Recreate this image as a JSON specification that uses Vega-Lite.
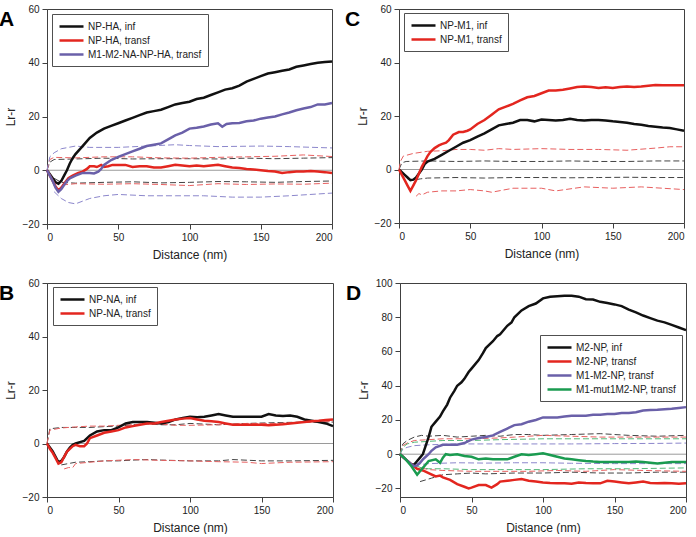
{
"$schema": "https://vega.github.io/schema/vega-lite/v6.json",
"padding": {"left": -2, "top": 3, "right": 0, "bottom": 0},
"background": "white",
"datasets": {
"A": [
{"s":"NP-HA, inf","d":0,"v":0},{"s":"NP-HA, inf","d":2,"v":-1.5},{"s":"NP-HA, inf","d":4,"v":-3},{"s":"NP-HA, inf","d":6,"v":-4.5},{"s":"NP-HA, inf","d":8,"v":-5},{"s":"NP-HA, inf","d":10,"v":-4},{"s":"NP-HA, inf","d":12,"v":-2},{"s":"NP-HA, inf","d":14,"v":0},{"s":"NP-HA, inf","d":16,"v":2.5},{"s":"NP-HA, inf","d":18,"v":4.5},{"s":"NP-HA, inf","d":20,"v":6},{"s":"NP-HA, inf","d":25,"v":9},{"s":"NP-HA, inf","d":30,"v":12},{"s":"NP-HA, inf","d":35,"v":14},{"s":"NP-HA, inf","d":40,"v":15.5},{"s":"NP-HA, inf","d":45,"v":16.5},{"s":"NP-HA, inf","d":50,"v":17.5},{"s":"NP-HA, inf","d":55,"v":18.5},{"s":"NP-HA, inf","d":60,"v":19.5},{"s":"NP-HA, inf","d":65,"v":20.5},{"s":"NP-HA, inf","d":70,"v":21.5},{"s":"NP-HA, inf","d":75,"v":22},{"s":"NP-HA, inf","d":80,"v":22.5},{"s":"NP-HA, inf","d":85,"v":23.5},{"s":"NP-HA, inf","d":90,"v":24.5},{"s":"NP-HA, inf","d":95,"v":25},{"s":"NP-HA, inf","d":100,"v":25.5},{"s":"NP-HA, inf","d":105,"v":26.5},{"s":"NP-HA, inf","d":110,"v":27},{"s":"NP-HA, inf","d":115,"v":28},{"s":"NP-HA, inf","d":120,"v":29},{"s":"NP-HA, inf","d":125,"v":30},{"s":"NP-HA, inf","d":130,"v":30.5},{"s":"NP-HA, inf","d":135,"v":31.5},{"s":"NP-HA, inf","d":140,"v":33},{"s":"NP-HA, inf","d":145,"v":34},{"s":"NP-HA, inf","d":150,"v":35},{"s":"NP-HA, inf","d":155,"v":36},{"s":"NP-HA, inf","d":160,"v":36.5},{"s":"NP-HA, inf","d":165,"v":37},{"s":"NP-HA, inf","d":170,"v":37.5},{"s":"NP-HA, inf","d":175,"v":38.5},{"s":"NP-HA, inf","d":180,"v":39},{"s":"NP-HA, inf","d":185,"v":39.5},{"s":"NP-HA, inf","d":190,"v":40},{"s":"NP-HA, inf","d":195,"v":40.3},{"s":"NP-HA, inf","d":200,"v":40.5},
{"s":"NP-HA, transf","d":0,"v":0},{"s":"NP-HA, transf","d":2,"v":-2},{"s":"NP-HA, transf","d":4,"v":-4},{"s":"NP-HA, transf","d":6,"v":-6},{"s":"NP-HA, transf","d":8,"v":-7.5},{"s":"NP-HA, transf","d":10,"v":-6.5},{"s":"NP-HA, transf","d":12,"v":-5},{"s":"NP-HA, transf","d":15,"v":-3},{"s":"NP-HA, transf","d":18,"v":-2},{"s":"NP-HA, transf","d":22,"v":-1},{"s":"NP-HA, transf","d":25,"v":-0.5},{"s":"NP-HA, transf","d":28,"v":0.5},{"s":"NP-HA, transf","d":30,"v":1.5},{"s":"NP-HA, transf","d":33,"v":1.5},{"s":"NP-HA, transf","d":35,"v":1.2},{"s":"NP-HA, transf","d":38,"v":2},{"s":"NP-HA, transf","d":40,"v":1.2},{"s":"NP-HA, transf","d":43,"v":1.5},{"s":"NP-HA, transf","d":46,"v":2},{"s":"NP-HA, transf","d":50,"v":2},{"s":"NP-HA, transf","d":55,"v":2},{"s":"NP-HA, transf","d":60,"v":1.2},{"s":"NP-HA, transf","d":65,"v":1.5},{"s":"NP-HA, transf","d":70,"v":1.5},{"s":"NP-HA, transf","d":75,"v":1},{"s":"NP-HA, transf","d":80,"v":1},{"s":"NP-HA, transf","d":85,"v":1.5},{"s":"NP-HA, transf","d":90,"v":2},{"s":"NP-HA, transf","d":95,"v":1.8},{"s":"NP-HA, transf","d":100,"v":1.5},{"s":"NP-HA, transf","d":105,"v":1.8},{"s":"NP-HA, transf","d":110,"v":1.5},{"s":"NP-HA, transf","d":115,"v":1.8},{"s":"NP-HA, transf","d":120,"v":2},{"s":"NP-HA, transf","d":125,"v":1.5},{"s":"NP-HA, transf","d":130,"v":1},{"s":"NP-HA, transf","d":135,"v":0.8},{"s":"NP-HA, transf","d":140,"v":0.5},{"s":"NP-HA, transf","d":145,"v":0.3},{"s":"NP-HA, transf","d":150,"v":0},{"s":"NP-HA, transf","d":155,"v":-0.3},{"s":"NP-HA, transf","d":160,"v":-0.5},{"s":"NP-HA, transf","d":165,"v":-1},{"s":"NP-HA, transf","d":170,"v":-0.7},{"s":"NP-HA, transf","d":175,"v":-0.5},{"s":"NP-HA, transf","d":180,"v":-0.5},{"s":"NP-HA, transf","d":185,"v":-0.3},{"s":"NP-HA, transf","d":190,"v":-0.5},{"s":"NP-HA, transf","d":195,"v":-0.7},{"s":"NP-HA, transf","d":200,"v":-1},
{"s":"M1-M2-NA-NP-HA, transf","d":0,"v":0},{"s":"M1-M2-NA-NP-HA, transf","d":2,"v":-2},{"s":"M1-M2-NA-NP-HA, transf","d":4,"v":-4},{"s":"M1-M2-NA-NP-HA, transf","d":6,"v":-6.5},{"s":"M1-M2-NA-NP-HA, transf","d":8,"v":-8},{"s":"M1-M2-NA-NP-HA, transf","d":10,"v":-7},{"s":"M1-M2-NA-NP-HA, transf","d":12,"v":-5.5},{"s":"M1-M2-NA-NP-HA, transf","d":14,"v":-4},{"s":"M1-M2-NA-NP-HA, transf","d":16,"v":-3},{"s":"M1-M2-NA-NP-HA, transf","d":20,"v":-2},{"s":"M1-M2-NA-NP-HA, transf","d":25,"v":-1},{"s":"M1-M2-NA-NP-HA, transf","d":30,"v":-1},{"s":"M1-M2-NA-NP-HA, transf","d":33,"v":-1.2},{"s":"M1-M2-NA-NP-HA, transf","d":36,"v":-0.5},{"s":"M1-M2-NA-NP-HA, transf","d":38,"v":0.5},{"s":"M1-M2-NA-NP-HA, transf","d":40,"v":2},{"s":"M1-M2-NA-NP-HA, transf","d":45,"v":3.8},{"s":"M1-M2-NA-NP-HA, transf","d":50,"v":5},{"s":"M1-M2-NA-NP-HA, transf","d":55,"v":6},{"s":"M1-M2-NA-NP-HA, transf","d":60,"v":7},{"s":"M1-M2-NA-NP-HA, transf","d":65,"v":8},{"s":"M1-M2-NA-NP-HA, transf","d":70,"v":9},{"s":"M1-M2-NA-NP-HA, transf","d":75,"v":9.5},{"s":"M1-M2-NA-NP-HA, transf","d":80,"v":10},{"s":"M1-M2-NA-NP-HA, transf","d":85,"v":11.5},{"s":"M1-M2-NA-NP-HA, transf","d":90,"v":13},{"s":"M1-M2-NA-NP-HA, transf","d":95,"v":14},{"s":"M1-M2-NA-NP-HA, transf","d":100,"v":15.5},{"s":"M1-M2-NA-NP-HA, transf","d":105,"v":15.8},{"s":"M1-M2-NA-NP-HA, transf","d":110,"v":16.3},{"s":"M1-M2-NA-NP-HA, transf","d":115,"v":17},{"s":"M1-M2-NA-NP-HA, transf","d":120,"v":17.5},{"s":"M1-M2-NA-NP-HA, transf","d":123,"v":16.2},{"s":"M1-M2-NA-NP-HA, transf","d":126,"v":17.2},{"s":"M1-M2-NA-NP-HA, transf","d":130,"v":17.5},{"s":"M1-M2-NA-NP-HA, transf","d":135,"v":17.6},{"s":"M1-M2-NA-NP-HA, transf","d":140,"v":18.2},{"s":"M1-M2-NA-NP-HA, transf","d":145,"v":18.5},{"s":"M1-M2-NA-NP-HA, transf","d":150,"v":19.2},{"s":"M1-M2-NA-NP-HA, transf","d":155,"v":19.6},{"s":"M1-M2-NA-NP-HA, transf","d":160,"v":20},{"s":"M1-M2-NA-NP-HA, transf","d":165,"v":20.8},{"s":"M1-M2-NA-NP-HA, transf","d":170,"v":21.5},{"s":"M1-M2-NA-NP-HA, transf","d":175,"v":22.3},{"s":"M1-M2-NA-NP-HA, transf","d":180,"v":23},{"s":"M1-M2-NA-NP-HA, transf","d":185,"v":23.5},{"s":"M1-M2-NA-NP-HA, transf","d":190,"v":24.5},{"s":"M1-M2-NA-NP-HA, transf","d":195,"v":24.5},{"s":"M1-M2-NA-NP-HA, transf","d":200,"v":25}
],
"Ae": [
{"s":"NP-HA, inf","b":"u","d":0,"v":0},{"s":"NP-HA, inf","b":"u","d":2,"v":3},{"s":"NP-HA, inf","b":"u","d":5,"v":4},{"s":"NP-HA, inf","b":"u","d":20,"v":4.2},{"s":"NP-HA, inf","b":"u","d":40,"v":4.5},{"s":"NP-HA, inf","b":"u","d":60,"v":4.2},{"s":"NP-HA, inf","b":"u","d":80,"v":4.3},{"s":"NP-HA, inf","b":"u","d":100,"v":4.3},{"s":"NP-HA, inf","b":"u","d":120,"v":4.2},{"s":"NP-HA, inf","b":"u","d":140,"v":4.5},{"s":"NP-HA, inf","b":"u","d":160,"v":4.3},{"s":"NP-HA, inf","b":"u","d":180,"v":4.5},{"s":"NP-HA, inf","b":"u","d":200,"v":4.7},
{"s":"NP-HA, inf","b":"l","d":5,"v":-3},{"s":"NP-HA, inf","b":"l","d":10,"v":-4.5},{"s":"NP-HA, inf","b":"l","d":20,"v":-4.8},{"s":"NP-HA, inf","b":"l","d":40,"v":-4.5},{"s":"NP-HA, inf","b":"l","d":60,"v":-4.3},{"s":"NP-HA, inf","b":"l","d":80,"v":-4.7},{"s":"NP-HA, inf","b":"l","d":100,"v":-4.5},{"s":"NP-HA, inf","b":"l","d":120,"v":-4.2},{"s":"NP-HA, inf","b":"l","d":140,"v":-4.3},{"s":"NP-HA, inf","b":"l","d":160,"v":-4.5},{"s":"NP-HA, inf","b":"l","d":180,"v":-4.2},{"s":"NP-HA, inf","b":"l","d":200,"v":-4},
{"s":"NP-HA, transf","b":"u","d":0,"v":0},{"s":"NP-HA, transf","b":"u","d":2,"v":4},{"s":"NP-HA, transf","b":"u","d":5,"v":4.8},{"s":"NP-HA, transf","b":"u","d":20,"v":4.6},{"s":"NP-HA, transf","b":"u","d":40,"v":5},{"s":"NP-HA, transf","b":"u","d":60,"v":5},{"s":"NP-HA, transf","b":"u","d":80,"v":4.6},{"s":"NP-HA, transf","b":"u","d":100,"v":4.5},{"s":"NP-HA, transf","b":"u","d":120,"v":4.8},{"s":"NP-HA, transf","b":"u","d":140,"v":5},{"s":"NP-HA, transf","b":"u","d":160,"v":5.2},{"s":"NP-HA, transf","b":"u","d":180,"v":5.7},{"s":"NP-HA, transf","b":"u","d":200,"v":5.1},
{"s":"NP-HA, transf","b":"l","d":5,"v":-4},{"s":"NP-HA, transf","b":"l","d":10,"v":-5.5},{"s":"NP-HA, transf","b":"l","d":20,"v":-5},{"s":"NP-HA, transf","b":"l","d":40,"v":-5.2},{"s":"NP-HA, transf","b":"l","d":60,"v":-5},{"s":"NP-HA, transf","b":"l","d":80,"v":-5.3},{"s":"NP-HA, transf","b":"l","d":100,"v":-5.7},{"s":"NP-HA, transf","b":"l","d":120,"v":-5},{"s":"NP-HA, transf","b":"l","d":140,"v":-5.3},{"s":"NP-HA, transf","b":"l","d":160,"v":-5.1},{"s":"NP-HA, transf","b":"l","d":180,"v":-5.2},{"s":"NP-HA, transf","b":"l","d":200,"v":-4.8},
{"s":"M1-M2-NA-NP-HA, transf","b":"u","d":0,"v":0},{"s":"M1-M2-NA-NP-HA, transf","b":"u","d":2,"v":5},{"s":"M1-M2-NA-NP-HA, transf","b":"u","d":5,"v":6.5},{"s":"M1-M2-NA-NP-HA, transf","b":"u","d":10,"v":8},{"s":"M1-M2-NA-NP-HA, transf","b":"u","d":20,"v":9},{"s":"M1-M2-NA-NP-HA, transf","b":"u","d":30,"v":8.5},{"s":"M1-M2-NA-NP-HA, transf","b":"u","d":50,"v":8.5},{"s":"M1-M2-NA-NP-HA, transf","b":"u","d":70,"v":9},{"s":"M1-M2-NA-NP-HA, transf","b":"u","d":90,"v":9.5},{"s":"M1-M2-NA-NP-HA, transf","b":"u","d":100,"v":9.2},{"s":"M1-M2-NA-NP-HA, transf","b":"u","d":120,"v":8.8},{"s":"M1-M2-NA-NP-HA, transf","b":"u","d":150,"v":9},{"s":"M1-M2-NA-NP-HA, transf","b":"u","d":170,"v":8.8},{"s":"M1-M2-NA-NP-HA, transf","b":"u","d":200,"v":8.3},
{"s":"M1-M2-NA-NP-HA, transf","b":"l","d":5,"v":-8},{"s":"M1-M2-NA-NP-HA, transf","b":"l","d":10,"v":-10.5},{"s":"M1-M2-NA-NP-HA, transf","b":"l","d":15,"v":-12},{"s":"M1-M2-NA-NP-HA, transf","b":"l","d":20,"v":-12.5},{"s":"M1-M2-NA-NP-HA, transf","b":"l","d":25,"v":-11.5},{"s":"M1-M2-NA-NP-HA, transf","b":"l","d":30,"v":-10.5},{"s":"M1-M2-NA-NP-HA, transf","b":"l","d":40,"v":-9.5},{"s":"M1-M2-NA-NP-HA, transf","b":"l","d":50,"v":-9},{"s":"M1-M2-NA-NP-HA, transf","b":"l","d":70,"v":-9.5},{"s":"M1-M2-NA-NP-HA, transf","b":"l","d":90,"v":-9.5},{"s":"M1-M2-NA-NP-HA, transf","b":"l","d":110,"v":-9.5},{"s":"M1-M2-NA-NP-HA, transf","b":"l","d":130,"v":-10},{"s":"M1-M2-NA-NP-HA, transf","b":"l","d":150,"v":-10},{"s":"M1-M2-NA-NP-HA, transf","b":"l","d":170,"v":-9.5},{"s":"M1-M2-NA-NP-HA, transf","b":"l","d":200,"v":-8.5}
],
"B": [
{"s":"NP-NA, inf","d":0,"v":0},{"s":"NP-NA, inf","d":2,"v":-1.5},{"s":"NP-NA, inf","d":4,"v":-3},{"s":"NP-NA, inf","d":6,"v":-5},{"s":"NP-NA, inf","d":8,"v":-7},{"s":"NP-NA, inf","d":10,"v":-6.5},{"s":"NP-NA, inf","d":12,"v":-5},{"s":"NP-NA, inf","d":14,"v":-3},{"s":"NP-NA, inf","d":16,"v":-1.5},{"s":"NP-NA, inf","d":18,"v":-0.5},{"s":"NP-NA, inf","d":20,"v":0},{"s":"NP-NA, inf","d":23,"v":0.5},{"s":"NP-NA, inf","d":26,"v":1},{"s":"NP-NA, inf","d":30,"v":3},{"s":"NP-NA, inf","d":35,"v":4.5},{"s":"NP-NA, inf","d":40,"v":5},{"s":"NP-NA, inf","d":45,"v":5},{"s":"NP-NA, inf","d":50,"v":6},{"s":"NP-NA, inf","d":55,"v":7.5},{"s":"NP-NA, inf","d":60,"v":8},{"s":"NP-NA, inf","d":65,"v":8},{"s":"NP-NA, inf","d":70,"v":8},{"s":"NP-NA, inf","d":75,"v":7.8},{"s":"NP-NA, inf","d":80,"v":7.5},{"s":"NP-NA, inf","d":85,"v":8},{"s":"NP-NA, inf","d":90,"v":9},{"s":"NP-NA, inf","d":95,"v":9.5},{"s":"NP-NA, inf","d":100,"v":10},{"s":"NP-NA, inf","d":105,"v":9.8},{"s":"NP-NA, inf","d":110,"v":10},{"s":"NP-NA, inf","d":115,"v":10.5},{"s":"NP-NA, inf","d":120,"v":11},{"s":"NP-NA, inf","d":125,"v":10.5},{"s":"NP-NA, inf","d":130,"v":10},{"s":"NP-NA, inf","d":135,"v":10},{"s":"NP-NA, inf","d":140,"v":10},{"s":"NP-NA, inf","d":145,"v":10},{"s":"NP-NA, inf","d":150,"v":10},{"s":"NP-NA, inf","d":155,"v":11},{"s":"NP-NA, inf","d":160,"v":10.5},{"s":"NP-NA, inf","d":165,"v":10.3},{"s":"NP-NA, inf","d":170,"v":10.5},{"s":"NP-NA, inf","d":175,"v":10},{"s":"NP-NA, inf","d":180,"v":9},{"s":"NP-NA, inf","d":185,"v":8.5},{"s":"NP-NA, inf","d":190,"v":8},{"s":"NP-NA, inf","d":195,"v":7.5},{"s":"NP-NA, inf","d":200,"v":6.5},
{"s":"NP-NA, transf","d":0,"v":0},{"s":"NP-NA, transf","d":2,"v":-2},{"s":"NP-NA, transf","d":4,"v":-3.5},{"s":"NP-NA, transf","d":6,"v":-5.5},{"s":"NP-NA, transf","d":8,"v":-7.5},{"s":"NP-NA, transf","d":10,"v":-7},{"s":"NP-NA, transf","d":12,"v":-5},{"s":"NP-NA, transf","d":14,"v":-3},{"s":"NP-NA, transf","d":16,"v":-2},{"s":"NP-NA, transf","d":18,"v":-1},{"s":"NP-NA, transf","d":20,"v":-0.5},{"s":"NP-NA, transf","d":23,"v":-1},{"s":"NP-NA, transf","d":26,"v":-1},{"s":"NP-NA, transf","d":28,"v":0},{"s":"NP-NA, transf","d":30,"v":2},{"s":"NP-NA, transf","d":35,"v":3},{"s":"NP-NA, transf","d":40,"v":4},{"s":"NP-NA, transf","d":45,"v":4.5},{"s":"NP-NA, transf","d":50,"v":5},{"s":"NP-NA, transf","d":55,"v":6},{"s":"NP-NA, transf","d":60,"v":6.5},{"s":"NP-NA, transf","d":65,"v":7},{"s":"NP-NA, transf","d":70,"v":7.5},{"s":"NP-NA, transf","d":75,"v":7.5},{"s":"NP-NA, transf","d":80,"v":8},{"s":"NP-NA, transf","d":85,"v":8.5},{"s":"NP-NA, transf","d":90,"v":9},{"s":"NP-NA, transf","d":95,"v":9.3},{"s":"NP-NA, transf","d":100,"v":9.5},{"s":"NP-NA, transf","d":105,"v":9},{"s":"NP-NA, transf","d":110,"v":8.5},{"s":"NP-NA, transf","d":115,"v":8.3},{"s":"NP-NA, transf","d":120,"v":8},{"s":"NP-NA, transf","d":125,"v":7.5},{"s":"NP-NA, transf","d":130,"v":7},{"s":"NP-NA, transf","d":135,"v":7},{"s":"NP-NA, transf","d":140,"v":7},{"s":"NP-NA, transf","d":145,"v":7},{"s":"NP-NA, transf","d":150,"v":7},{"s":"NP-NA, transf","d":155,"v":6.8},{"s":"NP-NA, transf","d":160,"v":7},{"s":"NP-NA, transf","d":165,"v":7.2},{"s":"NP-NA, transf","d":170,"v":7.5},{"s":"NP-NA, transf","d":175,"v":7.8},{"s":"NP-NA, transf","d":180,"v":8},{"s":"NP-NA, transf","d":185,"v":8.3},{"s":"NP-NA, transf","d":190,"v":8.5},{"s":"NP-NA, transf","d":195,"v":8.8},{"s":"NP-NA, transf","d":200,"v":9}
],
"Be": [
{"s":"NP-NA, inf","b":"u","d":0,"v":0},{"s":"NP-NA, inf","b":"u","d":2,"v":5.5},{"s":"NP-NA, inf","b":"u","d":10,"v":6},{"s":"NP-NA, inf","b":"u","d":20,"v":6},{"s":"NP-NA, inf","b":"u","d":30,"v":6},{"s":"NP-NA, inf","b":"u","d":40,"v":6.3},{"s":"NP-NA, inf","b":"u","d":50,"v":6.5},{"s":"NP-NA, inf","b":"u","d":60,"v":7},{"s":"NP-NA, inf","b":"u","d":70,"v":7.3},{"s":"NP-NA, inf","b":"u","d":80,"v":7},{"s":"NP-NA, inf","b":"u","d":90,"v":7},{"s":"NP-NA, inf","b":"u","d":100,"v":7.5},{"s":"NP-NA, inf","b":"u","d":120,"v":7},{"s":"NP-NA, inf","b":"u","d":140,"v":7.5},{"s":"NP-NA, inf","b":"u","d":160,"v":7.8},{"s":"NP-NA, inf","b":"u","d":180,"v":8},{"s":"NP-NA, inf","b":"u","d":200,"v":8},
{"s":"NP-NA, inf","b":"l","d":10,"v":-8},{"s":"NP-NA, inf","b":"l","d":15,"v":-7.5},{"s":"NP-NA, inf","b":"l","d":20,"v":-7},{"s":"NP-NA, inf","b":"l","d":30,"v":-6.8},{"s":"NP-NA, inf","b":"l","d":40,"v":-6.5},{"s":"NP-NA, inf","b":"l","d":50,"v":-6.5},{"s":"NP-NA, inf","b":"l","d":60,"v":-6.2},{"s":"NP-NA, inf","b":"l","d":70,"v":-6},{"s":"NP-NA, inf","b":"l","d":80,"v":-6.2},{"s":"NP-NA, inf","b":"l","d":100,"v":-6.5},{"s":"NP-NA, inf","b":"l","d":120,"v":-6.5},{"s":"NP-NA, inf","b":"l","d":130,"v":-6},{"s":"NP-NA, inf","b":"l","d":150,"v":-6.5},{"s":"NP-NA, inf","b":"l","d":170,"v":-6.5},{"s":"NP-NA, inf","b":"l","d":200,"v":-6.3},
{"s":"NP-NA, transf","b":"u","d":0,"v":0},{"s":"NP-NA, transf","b":"u","d":2,"v":5},{"s":"NP-NA, transf","b":"u","d":10,"v":5.8},{"s":"NP-NA, transf","b":"u","d":20,"v":6.2},{"s":"NP-NA, transf","b":"u","d":30,"v":6.5},{"s":"NP-NA, transf","b":"u","d":40,"v":6.5},{"s":"NP-NA, transf","b":"u","d":50,"v":6.8},{"s":"NP-NA, transf","b":"u","d":60,"v":7},{"s":"NP-NA, transf","b":"u","d":70,"v":7.5},{"s":"NP-NA, transf","b":"u","d":80,"v":7.2},{"s":"NP-NA, transf","b":"u","d":90,"v":6.8},{"s":"NP-NA, transf","b":"u","d":100,"v":6.8},{"s":"NP-NA, transf","b":"u","d":120,"v":7},{"s":"NP-NA, transf","b":"u","d":140,"v":7.5},{"s":"NP-NA, transf","b":"u","d":160,"v":7.5},{"s":"NP-NA, transf","b":"u","d":180,"v":8},{"s":"NP-NA, transf","b":"u","d":200,"v":8.2},
{"s":"NP-NA, transf","b":"l","d":12,"v":-9.5},{"s":"NP-NA, transf","b":"l","d":15,"v":-9},{"s":"NP-NA, transf","b":"l","d":18,"v":-9},{"s":"NP-NA, transf","b":"l","d":20,"v":-7.5},{"s":"NP-NA, transf","b":"l","d":30,"v":-7},{"s":"NP-NA, transf","b":"l","d":40,"v":-6.5},{"s":"NP-NA, transf","b":"l","d":60,"v":-6},{"s":"NP-NA, transf","b":"l","d":80,"v":-6.3},{"s":"NP-NA, transf","b":"l","d":100,"v":-6.5},{"s":"NP-NA, transf","b":"l","d":120,"v":-6.8},{"s":"NP-NA, transf","b":"l","d":140,"v":-7},{"s":"NP-NA, transf","b":"l","d":150,"v":-7.5},{"s":"NP-NA, transf","b":"l","d":170,"v":-7},{"s":"NP-NA, transf","b":"l","d":200,"v":-6.8}
],
"C": [
{"s":"NP-M1, inf","d":0,"v":0},{"s":"NP-M1, inf","d":2,"v":-1},{"s":"NP-M1, inf","d":4,"v":-2},{"s":"NP-M1, inf","d":6,"v":-3},{"s":"NP-M1, inf","d":8,"v":-4},{"s":"NP-M1, inf","d":10,"v":-3.8},{"s":"NP-M1, inf","d":12,"v":-3},{"s":"NP-M1, inf","d":14,"v":-1.5},{"s":"NP-M1, inf","d":16,"v":0},{"s":"NP-M1, inf","d":18,"v":2},{"s":"NP-M1, inf","d":20,"v":3},{"s":"NP-M1, inf","d":25,"v":4},{"s":"NP-M1, inf","d":30,"v":5.5},{"s":"NP-M1, inf","d":35,"v":7},{"s":"NP-M1, inf","d":40,"v":8.5},{"s":"NP-M1, inf","d":45,"v":10},{"s":"NP-M1, inf","d":50,"v":11},{"s":"NP-M1, inf","d":55,"v":12.3},{"s":"NP-M1, inf","d":60,"v":13.5},{"s":"NP-M1, inf","d":65,"v":15},{"s":"NP-M1, inf","d":70,"v":16.5},{"s":"NP-M1, inf","d":75,"v":17},{"s":"NP-M1, inf","d":80,"v":17.5},{"s":"NP-M1, inf","d":85,"v":18.5},{"s":"NP-M1, inf","d":90,"v":18.5},{"s":"NP-M1, inf","d":95,"v":18},{"s":"NP-M1, inf","d":100,"v":18.7},{"s":"NP-M1, inf","d":105,"v":18.5},{"s":"NP-M1, inf","d":110,"v":18.3},{"s":"NP-M1, inf","d":115,"v":18.5},{"s":"NP-M1, inf","d":120,"v":19},{"s":"NP-M1, inf","d":125,"v":18.5},{"s":"NP-M1, inf","d":130,"v":18.3},{"s":"NP-M1, inf","d":135,"v":18.5},{"s":"NP-M1, inf","d":140,"v":18.5},{"s":"NP-M1, inf","d":145,"v":18.3},{"s":"NP-M1, inf","d":150,"v":18},{"s":"NP-M1, inf","d":155,"v":17.8},{"s":"NP-M1, inf","d":160,"v":17.5},{"s":"NP-M1, inf","d":165,"v":17},{"s":"NP-M1, inf","d":170,"v":16.7},{"s":"NP-M1, inf","d":175,"v":16.3},{"s":"NP-M1, inf","d":180,"v":16},{"s":"NP-M1, inf","d":185,"v":15.7},{"s":"NP-M1, inf","d":190,"v":15.5},{"s":"NP-M1, inf","d":195,"v":15},{"s":"NP-M1, inf","d":200,"v":14.5},
{"s":"NP-M1, transf","d":0,"v":0},{"s":"NP-M1, transf","d":2,"v":-2},{"s":"NP-M1, transf","d":4,"v":-4},{"s":"NP-M1, transf","d":6,"v":-6},{"s":"NP-M1, transf","d":8,"v":-8},{"s":"NP-M1, transf","d":10,"v":-6},{"s":"NP-M1, transf","d":12,"v":-4},{"s":"NP-M1, transf","d":14,"v":-1.5},{"s":"NP-M1, transf","d":16,"v":1},{"s":"NP-M1, transf","d":18,"v":3},{"s":"NP-M1, transf","d":20,"v":5},{"s":"NP-M1, transf","d":22,"v":6.5},{"s":"NP-M1, transf","d":25,"v":8},{"s":"NP-M1, transf","d":28,"v":9},{"s":"NP-M1, transf","d":30,"v":9.5},{"s":"NP-M1, transf","d":33,"v":10},{"s":"NP-M1, transf","d":35,"v":11},{"s":"NP-M1, transf","d":38,"v":13},{"s":"NP-M1, transf","d":42,"v":14},{"s":"NP-M1, transf","d":45,"v":14},{"s":"NP-M1, transf","d":48,"v":14.5},{"s":"NP-M1, transf","d":50,"v":15},{"s":"NP-M1, transf","d":55,"v":17},{"s":"NP-M1, transf","d":60,"v":18.5},{"s":"NP-M1, transf","d":65,"v":20.5},{"s":"NP-M1, transf","d":70,"v":22.5},{"s":"NP-M1, transf","d":75,"v":23.5},{"s":"NP-M1, transf","d":80,"v":24.5},{"s":"NP-M1, transf","d":85,"v":25.8},{"s":"NP-M1, transf","d":90,"v":27},{"s":"NP-M1, transf","d":95,"v":27.5},{"s":"NP-M1, transf","d":100,"v":28.5},{"s":"NP-M1, transf","d":105,"v":29.5},{"s":"NP-M1, transf","d":110,"v":29.5},{"s":"NP-M1, transf","d":115,"v":29.8},{"s":"NP-M1, transf","d":120,"v":30.3},{"s":"NP-M1, transf","d":125,"v":30.8},{"s":"NP-M1, transf","d":130,"v":31},{"s":"NP-M1, transf","d":135,"v":30.8},{"s":"NP-M1, transf","d":140,"v":30.5},{"s":"NP-M1, transf","d":145,"v":30.7},{"s":"NP-M1, transf","d":150,"v":30.5},{"s":"NP-M1, transf","d":155,"v":30.8},{"s":"NP-M1, transf","d":160,"v":31},{"s":"NP-M1, transf","d":165,"v":30.8},{"s":"NP-M1, transf","d":170,"v":31},{"s":"NP-M1, transf","d":175,"v":31.3},{"s":"NP-M1, transf","d":180,"v":31.6},{"s":"NP-M1, transf","d":185,"v":31.5},{"s":"NP-M1, transf","d":190,"v":31.5},{"s":"NP-M1, transf","d":195,"v":31.5},{"s":"NP-M1, transf","d":200,"v":31.5}
],
"Ce": [
{"s":"NP-M1, inf","b":"u","d":0,"v":0},{"s":"NP-M1, inf","b":"u","d":2,"v":2.5},{"s":"NP-M1, inf","b":"u","d":5,"v":3},{"s":"NP-M1, inf","b":"u","d":20,"v":3.2},{"s":"NP-M1, inf","b":"u","d":40,"v":3},{"s":"NP-M1, inf","b":"u","d":60,"v":3.2},{"s":"NP-M1, inf","b":"u","d":80,"v":3},{"s":"NP-M1, inf","b":"u","d":100,"v":3},{"s":"NP-M1, inf","b":"u","d":120,"v":3.2},{"s":"NP-M1, inf","b":"u","d":140,"v":3},{"s":"NP-M1, inf","b":"u","d":160,"v":3},{"s":"NP-M1, inf","b":"u","d":180,"v":3.2},{"s":"NP-M1, inf","b":"u","d":200,"v":3.2},
{"s":"NP-M1, inf","b":"l","d":6,"v":-3.5},{"s":"NP-M1, inf","b":"l","d":10,"v":-4},{"s":"NP-M1, inf","b":"l","d":15,"v":-3.5},{"s":"NP-M1, inf","b":"l","d":20,"v":-3.2},{"s":"NP-M1, inf","b":"l","d":40,"v":-3},{"s":"NP-M1, inf","b":"l","d":60,"v":-3.2},{"s":"NP-M1, inf","b":"l","d":80,"v":-3},{"s":"NP-M1, inf","b":"l","d":100,"v":-3},{"s":"NP-M1, inf","b":"l","d":120,"v":-3.1},{"s":"NP-M1, inf","b":"l","d":140,"v":-3},{"s":"NP-M1, inf","b":"l","d":160,"v":-2.9},{"s":"NP-M1, inf","b":"l","d":180,"v":-3},{"s":"NP-M1, inf","b":"l","d":200,"v":-3},
{"s":"NP-M1, transf","b":"u","d":0,"v":0},{"s":"NP-M1, transf","b":"u","d":1,"v":3},{"s":"NP-M1, transf","b":"u","d":3,"v":5},{"s":"NP-M1, transf","b":"u","d":10,"v":6},{"s":"NP-M1, transf","b":"u","d":20,"v":6.8},{"s":"NP-M1, transf","b":"u","d":30,"v":7},{"s":"NP-M1, transf","b":"u","d":40,"v":7.5},{"s":"NP-M1, transf","b":"u","d":50,"v":7.5},{"s":"NP-M1, transf","b":"u","d":60,"v":7.2},{"s":"NP-M1, transf","b":"u","d":70,"v":7.8},{"s":"NP-M1, transf","b":"u","d":80,"v":7.5},{"s":"NP-M1, transf","b":"u","d":100,"v":7.8},{"s":"NP-M1, transf","b":"u","d":120,"v":7.5},{"s":"NP-M1, transf","b":"u","d":140,"v":7.5},{"s":"NP-M1, transf","b":"u","d":160,"v":7.2},{"s":"NP-M1, transf","b":"u","d":180,"v":8},{"s":"NP-M1, transf","b":"u","d":190,"v":8.5},{"s":"NP-M1, transf","b":"u","d":200,"v":8.5},
{"s":"NP-M1, transf","b":"l","d":12,"v":-10},{"s":"NP-M1, transf","b":"l","d":14,"v":-9},{"s":"NP-M1, transf","b":"l","d":16,"v":-9.5},{"s":"NP-M1, transf","b":"l","d":20,"v":-8.5},{"s":"NP-M1, transf","b":"l","d":30,"v":-8},{"s":"NP-M1, transf","b":"l","d":40,"v":-8},{"s":"NP-M1, transf","b":"l","d":50,"v":-7.5},{"s":"NP-M1, transf","b":"l","d":60,"v":-8},{"s":"NP-M1, transf","b":"l","d":65,"v":-8.5},{"s":"NP-M1, transf","b":"l","d":80,"v":-7},{"s":"NP-M1, transf","b":"l","d":100,"v":-7},{"s":"NP-M1, transf","b":"l","d":110,"v":-8},{"s":"NP-M1, transf","b":"l","d":130,"v":-6.5},{"s":"NP-M1, transf","b":"l","d":150,"v":-7},{"s":"NP-M1, transf","b":"l","d":170,"v":-6.5},{"s":"NP-M1, transf","b":"l","d":200,"v":-7.5}
],
"D": [
{"s":"M2-NP, inf","d":0,"v":0},{"s":"M2-NP, inf","d":2,"v":-1.5},{"s":"M2-NP, inf","d":4,"v":-3},{"s":"M2-NP, inf","d":6,"v":-4.5},{"s":"M2-NP, inf","d":8,"v":-6},{"s":"M2-NP, inf","d":10,"v":-6},{"s":"M2-NP, inf","d":12,"v":-4},{"s":"M2-NP, inf","d":14,"v":-2},{"s":"M2-NP, inf","d":16,"v":0},{"s":"M2-NP, inf","d":18,"v":5},{"s":"M2-NP, inf","d":20,"v":10},{"s":"M2-NP, inf","d":22,"v":16},{"s":"M2-NP, inf","d":25,"v":19},{"s":"M2-NP, inf","d":28,"v":22},{"s":"M2-NP, inf","d":30,"v":25},{"s":"M2-NP, inf","d":33,"v":29},{"s":"M2-NP, inf","d":35,"v":33},{"s":"M2-NP, inf","d":38,"v":37},{"s":"M2-NP, inf","d":40,"v":40},{"s":"M2-NP, inf","d":43,"v":42},{"s":"M2-NP, inf","d":45,"v":44},{"s":"M2-NP, inf","d":48,"v":48},{"s":"M2-NP, inf","d":50,"v":50},{"s":"M2-NP, inf","d":55,"v":55},{"s":"M2-NP, inf","d":58,"v":59},{"s":"M2-NP, inf","d":60,"v":62},{"s":"M2-NP, inf","d":65,"v":66},{"s":"M2-NP, inf","d":68,"v":69},{"s":"M2-NP, inf","d":70,"v":70},{"s":"M2-NP, inf","d":75,"v":75},{"s":"M2-NP, inf","d":78,"v":77},{"s":"M2-NP, inf","d":80,"v":80},{"s":"M2-NP, inf","d":85,"v":84},{"s":"M2-NP, inf","d":90,"v":86.5},{"s":"M2-NP, inf","d":95,"v":88},{"s":"M2-NP, inf","d":100,"v":91},{"s":"M2-NP, inf","d":105,"v":92},{"s":"M2-NP, inf","d":110,"v":92.3},{"s":"M2-NP, inf","d":115,"v":92.5},{"s":"M2-NP, inf","d":120,"v":92.5},{"s":"M2-NP, inf","d":125,"v":92},{"s":"M2-NP, inf","d":130,"v":90.5},{"s":"M2-NP, inf","d":135,"v":90.3},{"s":"M2-NP, inf","d":140,"v":89},{"s":"M2-NP, inf","d":145,"v":88.3},{"s":"M2-NP, inf","d":150,"v":87.5},{"s":"M2-NP, inf","d":155,"v":86.5},{"s":"M2-NP, inf","d":160,"v":84.5},{"s":"M2-NP, inf","d":165,"v":82.8},{"s":"M2-NP, inf","d":170,"v":81},{"s":"M2-NP, inf","d":175,"v":79.5},{"s":"M2-NP, inf","d":180,"v":78},{"s":"M2-NP, inf","d":185,"v":77},{"s":"M2-NP, inf","d":190,"v":75.5},{"s":"M2-NP, inf","d":195,"v":74},{"s":"M2-NP, inf","d":200,"v":72.5},
{"s":"M2-NP, transf","d":0,"v":0},{"s":"M2-NP, transf","d":4,"v":-3},{"s":"M2-NP, transf","d":8,"v":-6},{"s":"M2-NP, transf","d":12,"v":-8.5},{"s":"M2-NP, transf","d":16,"v":-9.5},{"s":"M2-NP, transf","d":20,"v":-11},{"s":"M2-NP, transf","d":25,"v":-13},{"s":"M2-NP, transf","d":28,"v":-12.5},{"s":"M2-NP, transf","d":30,"v":-13.5},{"s":"M2-NP, transf","d":35,"v":-15},{"s":"M2-NP, transf","d":40,"v":-17.5},{"s":"M2-NP, transf","d":45,"v":-19},{"s":"M2-NP, transf","d":48,"v":-20},{"s":"M2-NP, transf","d":50,"v":-19.5},{"s":"M2-NP, transf","d":55,"v":-18},{"s":"M2-NP, transf","d":60,"v":-18},{"s":"M2-NP, transf","d":64,"v":-19.5},{"s":"M2-NP, transf","d":68,"v":-17.5},{"s":"M2-NP, transf","d":70,"v":-16},{"s":"M2-NP, transf","d":75,"v":-15.5},{"s":"M2-NP, transf","d":80,"v":-15},{"s":"M2-NP, transf","d":85,"v":-14.5},{"s":"M2-NP, transf","d":90,"v":-15.5},{"s":"M2-NP, transf","d":95,"v":-16},{"s":"M2-NP, transf","d":100,"v":-16.5},{"s":"M2-NP, transf","d":105,"v":-16.8},{"s":"M2-NP, transf","d":110,"v":-17},{"s":"M2-NP, transf","d":115,"v":-17},{"s":"M2-NP, transf","d":120,"v":-17.3},{"s":"M2-NP, transf","d":125,"v":-16.5},{"s":"M2-NP, transf","d":130,"v":-16.8},{"s":"M2-NP, transf","d":135,"v":-17},{"s":"M2-NP, transf","d":140,"v":-17},{"s":"M2-NP, transf","d":145,"v":-15.5},{"s":"M2-NP, transf","d":150,"v":-16},{"s":"M2-NP, transf","d":155,"v":-16.5},{"s":"M2-NP, transf","d":160,"v":-17},{"s":"M2-NP, transf","d":165,"v":-16.5},{"s":"M2-NP, transf","d":170,"v":-16},{"s":"M2-NP, transf","d":175,"v":-16.8},{"s":"M2-NP, transf","d":180,"v":-17},{"s":"M2-NP, transf","d":185,"v":-16.8},{"s":"M2-NP, transf","d":190,"v":-17},{"s":"M2-NP, transf","d":195,"v":-17.2},{"s":"M2-NP, transf","d":200,"v":-17},
{"s":"M1-M2-NP, transf","d":0,"v":0},{"s":"M1-M2-NP, transf","d":4,"v":-3},{"s":"M1-M2-NP, transf","d":8,"v":-6},{"s":"M1-M2-NP, transf","d":10,"v":-7},{"s":"M1-M2-NP, transf","d":12,"v":-6.5},{"s":"M1-M2-NP, transf","d":14,"v":-5},{"s":"M1-M2-NP, transf","d":16,"v":-3},{"s":"M1-M2-NP, transf","d":18,"v":-1.5},{"s":"M1-M2-NP, transf","d":20,"v":0},{"s":"M1-M2-NP, transf","d":22,"v":2},{"s":"M1-M2-NP, transf","d":25,"v":4},{"s":"M1-M2-NP, transf","d":30,"v":5.5},{"s":"M1-M2-NP, transf","d":35,"v":5.5},{"s":"M1-M2-NP, transf","d":40,"v":5.5},{"s":"M1-M2-NP, transf","d":45,"v":6.5},{"s":"M1-M2-NP, transf","d":50,"v":8.5},{"s":"M1-M2-NP, transf","d":55,"v":9.5},{"s":"M1-M2-NP, transf","d":60,"v":10},{"s":"M1-M2-NP, transf","d":65,"v":11},{"s":"M1-M2-NP, transf","d":70,"v":13},{"s":"M1-M2-NP, transf","d":75,"v":15},{"s":"M1-M2-NP, transf","d":80,"v":17},{"s":"M1-M2-NP, transf","d":85,"v":17.5},{"s":"M1-M2-NP, transf","d":90,"v":19},{"s":"M1-M2-NP, transf","d":95,"v":20},{"s":"M1-M2-NP, transf","d":100,"v":21.5},{"s":"M1-M2-NP, transf","d":105,"v":21.5},{"s":"M1-M2-NP, transf","d":110,"v":21.5},{"s":"M1-M2-NP, transf","d":115,"v":22},{"s":"M1-M2-NP, transf","d":120,"v":22.5},{"s":"M1-M2-NP, transf","d":125,"v":22.5},{"s":"M1-M2-NP, transf","d":130,"v":22.5},{"s":"M1-M2-NP, transf","d":135,"v":23},{"s":"M1-M2-NP, transf","d":140,"v":23},{"s":"M1-M2-NP, transf","d":145,"v":23.5},{"s":"M1-M2-NP, transf","d":150,"v":23.5},{"s":"M1-M2-NP, transf","d":155,"v":24},{"s":"M1-M2-NP, transf","d":160,"v":24},{"s":"M1-M2-NP, transf","d":165,"v":24.5},{"s":"M1-M2-NP, transf","d":170,"v":25.5},{"s":"M1-M2-NP, transf","d":175,"v":25.8},{"s":"M1-M2-NP, transf","d":180,"v":26},{"s":"M1-M2-NP, transf","d":185,"v":26.3},{"s":"M1-M2-NP, transf","d":190,"v":26.5},{"s":"M1-M2-NP, transf","d":195,"v":27},{"s":"M1-M2-NP, transf","d":200,"v":27.5},
{"s":"M1-mut1M2-NP, transf","d":0,"v":0},{"s":"M1-mut1M2-NP, transf","d":4,"v":-3},{"s":"M1-mut1M2-NP, transf","d":8,"v":-7},{"s":"M1-mut1M2-NP, transf","d":12,"v":-12},{"s":"M1-mut1M2-NP, transf","d":14,"v":-10},{"s":"M1-mut1M2-NP, transf","d":16,"v":-8},{"s":"M1-mut1M2-NP, transf","d":18,"v":-6},{"s":"M1-mut1M2-NP, transf","d":20,"v":-4},{"s":"M1-mut1M2-NP, transf","d":25,"v":-3},{"s":"M1-mut1M2-NP, transf","d":28,"v":-5},{"s":"M1-mut1M2-NP, transf","d":30,"v":-2},{"s":"M1-mut1M2-NP, transf","d":32,"v":0},{"s":"M1-mut1M2-NP, transf","d":35,"v":-0.5},{"s":"M1-mut1M2-NP, transf","d":40,"v":0},{"s":"M1-mut1M2-NP, transf","d":45,"v":-1},{"s":"M1-mut1M2-NP, transf","d":50,"v":-1.5},{"s":"M1-mut1M2-NP, transf","d":55,"v":-3},{"s":"M1-mut1M2-NP, transf","d":60,"v":-2.5},{"s":"M1-mut1M2-NP, transf","d":65,"v":-3},{"s":"M1-mut1M2-NP, transf","d":70,"v":-3},{"s":"M1-mut1M2-NP, transf","d":75,"v":-3},{"s":"M1-mut1M2-NP, transf","d":80,"v":-1.5},{"s":"M1-mut1M2-NP, transf","d":85,"v":0},{"s":"M1-mut1M2-NP, transf","d":90,"v":-0.5},{"s":"M1-mut1M2-NP, transf","d":95,"v":0},{"s":"M1-mut1M2-NP, transf","d":100,"v":0.5},{"s":"M1-mut1M2-NP, transf","d":105,"v":-0.5},{"s":"M1-mut1M2-NP, transf","d":110,"v":-1.5},{"s":"M1-mut1M2-NP, transf","d":115,"v":-2.5},{"s":"M1-mut1M2-NP, transf","d":120,"v":-3},{"s":"M1-mut1M2-NP, transf","d":125,"v":-3.5},{"s":"M1-mut1M2-NP, transf","d":130,"v":-4},{"s":"M1-mut1M2-NP, transf","d":135,"v":-4.3},{"s":"M1-mut1M2-NP, transf","d":140,"v":-4.5},{"s":"M1-mut1M2-NP, transf","d":145,"v":-4.5},{"s":"M1-mut1M2-NP, transf","d":150,"v":-4.5},{"s":"M1-mut1M2-NP, transf","d":155,"v":-4.5},{"s":"M1-mut1M2-NP, transf","d":160,"v":-4.5},{"s":"M1-mut1M2-NP, transf","d":165,"v":-4.3},{"s":"M1-mut1M2-NP, transf","d":170,"v":-4.5},{"s":"M1-mut1M2-NP, transf","d":175,"v":-5},{"s":"M1-mut1M2-NP, transf","d":180,"v":-5.5},{"s":"M1-mut1M2-NP, transf","d":185,"v":-5},{"s":"M1-mut1M2-NP, transf","d":190,"v":-4.5},{"s":"M1-mut1M2-NP, transf","d":195,"v":-4.5},{"s":"M1-mut1M2-NP, transf","d":200,"v":-4.5}
],
"De": [
{"s":"M2-NP, inf","b":"u","d":0,"v":0},{"s":"M2-NP, inf","b":"u","d":2,"v":6},{"s":"M2-NP, inf","b":"u","d":5,"v":8},{"s":"M2-NP, inf","b":"u","d":10,"v":10},{"s":"M2-NP, inf","b":"u","d":15,"v":11},{"s":"M2-NP, inf","b":"u","d":20,"v":10.5},{"s":"M2-NP, inf","b":"u","d":30,"v":11},{"s":"M2-NP, inf","b":"u","d":40,"v":10},{"s":"M2-NP, inf","b":"u","d":50,"v":10.5},{"s":"M2-NP, inf","b":"u","d":60,"v":11},{"s":"M2-NP, inf","b":"u","d":70,"v":10.5},{"s":"M2-NP, inf","b":"u","d":80,"v":11.5},{"s":"M2-NP, inf","b":"u","d":90,"v":11.5},{"s":"M2-NP, inf","b":"u","d":100,"v":11},{"s":"M2-NP, inf","b":"u","d":120,"v":11.5},{"s":"M2-NP, inf","b":"u","d":140,"v":12},{"s":"M2-NP, inf","b":"u","d":160,"v":11},{"s":"M2-NP, inf","b":"u","d":180,"v":10.5},{"s":"M2-NP, inf","b":"u","d":200,"v":11},
{"s":"M2-NP, inf","b":"l","d":14,"v":-16},{"s":"M2-NP, inf","b":"l","d":18,"v":-15},{"s":"M2-NP, inf","b":"l","d":22,"v":-14},{"s":"M2-NP, inf","b":"l","d":30,"v":-12},{"s":"M2-NP, inf","b":"l","d":40,"v":-11.5},{"s":"M2-NP, inf","b":"l","d":50,"v":-11},{"s":"M2-NP, inf","b":"l","d":60,"v":-11.5},{"s":"M2-NP, inf","b":"l","d":80,"v":-11},{"s":"M2-NP, inf","b":"l","d":100,"v":-11},{"s":"M2-NP, inf","b":"l","d":120,"v":-10.5},{"s":"M2-NP, inf","b":"l","d":140,"v":-11},{"s":"M2-NP, inf","b":"l","d":160,"v":-11},{"s":"M2-NP, inf","b":"l","d":180,"v":-10.5},{"s":"M2-NP, inf","b":"l","d":200,"v":-10.5},
{"s":"M2-NP, transf","b":"u","d":0,"v":0},{"s":"M2-NP, transf","b":"u","d":2,"v":5},{"s":"M2-NP, transf","b":"u","d":5,"v":6.5},{"s":"M2-NP, transf","b":"u","d":10,"v":8},{"s":"M2-NP, transf","b":"u","d":20,"v":8.5},{"s":"M2-NP, transf","b":"u","d":30,"v":9},{"s":"M2-NP, transf","b":"u","d":50,"v":9},{"s":"M2-NP, transf","b":"u","d":70,"v":9.5},{"s":"M2-NP, transf","b":"u","d":80,"v":10},{"s":"M2-NP, transf","b":"u","d":100,"v":11},{"s":"M2-NP, transf","b":"u","d":120,"v":10.5},{"s":"M2-NP, transf","b":"u","d":140,"v":10},{"s":"M2-NP, transf","b":"u","d":160,"v":10},{"s":"M2-NP, transf","b":"u","d":180,"v":10},{"s":"M2-NP, transf","b":"u","d":200,"v":10},
{"s":"M2-NP, transf","b":"l","d":15,"v":-8},{"s":"M2-NP, transf","b":"l","d":20,"v":-9},{"s":"M2-NP, transf","b":"l","d":30,"v":-9.5},{"s":"M2-NP, transf","b":"l","d":50,"v":-10},{"s":"M2-NP, transf","b":"l","d":70,"v":-10},{"s":"M2-NP, transf","b":"l","d":90,"v":-10},{"s":"M2-NP, transf","b":"l","d":110,"v":-9.5},{"s":"M2-NP, transf","b":"l","d":130,"v":-10},{"s":"M2-NP, transf","b":"l","d":150,"v":-9},{"s":"M2-NP, transf","b":"l","d":170,"v":-9.5},{"s":"M2-NP, transf","b":"l","d":200,"v":-10},
{"s":"M1-M2-NP, transf","b":"u","d":0,"v":0},{"s":"M1-M2-NP, transf","b":"u","d":2,"v":3},{"s":"M1-M2-NP, transf","b":"u","d":5,"v":4},{"s":"M1-M2-NP, transf","b":"u","d":10,"v":5},{"s":"M1-M2-NP, transf","b":"u","d":20,"v":5.5},{"s":"M1-M2-NP, transf","b":"u","d":40,"v":6},{"s":"M1-M2-NP, transf","b":"u","d":60,"v":6},{"s":"M1-M2-NP, transf","b":"u","d":80,"v":6},{"s":"M1-M2-NP, transf","b":"u","d":100,"v":6},{"s":"M1-M2-NP, transf","b":"u","d":120,"v":6},{"s":"M1-M2-NP, transf","b":"u","d":150,"v":6.2},{"s":"M1-M2-NP, transf","b":"u","d":180,"v":6.3},{"s":"M1-M2-NP, transf","b":"u","d":200,"v":6.5},
{"s":"M1-M2-NP, transf","b":"l","d":10,"v":-5},{"s":"M1-M2-NP, transf","b":"l","d":15,"v":-6},{"s":"M1-M2-NP, transf","b":"l","d":20,"v":-5.5},{"s":"M1-M2-NP, transf","b":"l","d":40,"v":-5},{"s":"M1-M2-NP, transf","b":"l","d":60,"v":-5.2},{"s":"M1-M2-NP, transf","b":"l","d":80,"v":-5},{"s":"M1-M2-NP, transf","b":"l","d":100,"v":-5},{"s":"M1-M2-NP, transf","b":"l","d":120,"v":-5.3},{"s":"M1-M2-NP, transf","b":"l","d":150,"v":-5.5},{"s":"M1-M2-NP, transf","b":"l","d":180,"v":-5.5},{"s":"M1-M2-NP, transf","b":"l","d":200,"v":-5.5},
{"s":"M1-mut1M2-NP, transf","b":"u","d":0,"v":0},{"s":"M1-mut1M2-NP, transf","b":"u","d":2,"v":4},{"s":"M1-mut1M2-NP, transf","b":"u","d":5,"v":6},{"s":"M1-mut1M2-NP, transf","b":"u","d":10,"v":7},{"s":"M1-mut1M2-NP, transf","b":"u","d":20,"v":7.5},{"s":"M1-mut1M2-NP, transf","b":"u","d":30,"v":8},{"s":"M1-mut1M2-NP, transf","b":"u","d":50,"v":8},{"s":"M1-mut1M2-NP, transf","b":"u","d":70,"v":8.5},{"s":"M1-mut1M2-NP, transf","b":"u","d":100,"v":9},{"s":"M1-mut1M2-NP, transf","b":"u","d":130,"v":9},{"s":"M1-mut1M2-NP, transf","b":"u","d":160,"v":9},{"s":"M1-mut1M2-NP, transf","b":"u","d":200,"v":9},
{"s":"M1-mut1M2-NP, transf","b":"l","d":12,"v":-7},{"s":"M1-mut1M2-NP, transf","b":"l","d":15,"v":-8},{"s":"M1-mut1M2-NP, transf","b":"l","d":20,"v":-8.5},{"s":"M1-mut1M2-NP, transf","b":"l","d":30,"v":-8.5},{"s":"M1-mut1M2-NP, transf","b":"l","d":50,"v":-9},{"s":"M1-mut1M2-NP, transf","b":"l","d":70,"v":-9},{"s":"M1-mut1M2-NP, transf","b":"l","d":100,"v":-9},{"s":"M1-mut1M2-NP, transf","b":"l","d":130,"v":-8.5},{"s":"M1-mut1M2-NP, transf","b":"l","d":160,"v":-8.5},{"s":"M1-mut1M2-NP, transf","b":"l","d":200,"v":-8}
]
},
"resolve": {"scale": {"color": "independent", "stroke": "independent", "x": "independent", "y": "independent"}, "legend": {"color": "independent", "stroke": "independent"}},
"spacing": 16,
"vconcat": [
{
"hconcat": [
{
"width": 285, "height": 215,
"title": {"text": "A", "dx": -48},
"layer": [
{"data": {"values": [{}]}, "mark": {"type": "rule", "color": "#9a9a9a", "strokeWidth": 1}, "encoding": {"y": {"datum": 0, "type": "quantitative", "scale": {"domain": [-20, 60], "nice": false, "zero": false}}}},
{"data": {"name": "Ae"}, "mark": {"type": "line", "strokeWidth": 1, "strokeDash": [6, 3]},
"encoding": {
"x": {"field": "d", "type": "quantitative", "scale": {"domain": [0, 200], "nice": false}, "axis": {"values": [0, 50, 100, 150, 200], "tickCount": 10, "title": "Distance (nm)"}},
"y": {"field": "v", "type": "quantitative", "scale": {"domain": [-20, 60], "nice": false, "zero": false}, "axis": {"values": [-20, 0, 20, 40, 60], "tickCount": 10, "title": "Lr-r", "labelOverlap": false}},
"stroke": {"field": "s", "type": "nominal", "scale": {"domain": ["M1-M2-NA-NP-HA, transf", "NP-HA, transf", "NP-HA, inf"], "range": ["#8c87cc", "#e86060", "#444444"]}, "legend": null},
"detail": {"field": "b", "type": "nominal"}}},
{"data": {"name": "A"}, "mark": {"type": "line", "strokeWidth": 2.5},
"encoding": {
"x": {"field": "d", "type": "quantitative", "scale": {"domain": [0, 200], "nice": false}},
"y": {"field": "v", "type": "quantitative", "scale": {"domain": [-20, 60], "nice": false, "zero": false}},
"color": {"field": "s", "type": "nominal", "scale": {"domain": ["NP-HA, inf", "NP-HA, transf", "M1-M2-NA-NP-HA, transf"], "range": ["#111111", "#e3261f", "#6a60a9"]}, "legend": {"orient": "none", "legendX": 5, "legendY": 5, "title": null}}}}
]
},
{
"width": 285, "height": 214,
"title": {"text": "C", "dx": -54},
"layer": [
{"data": {"values": [{}]}, "mark": {"type": "rule", "color": "#9a9a9a", "strokeWidth": 1}, "encoding": {"y": {"datum": 0, "type": "quantitative", "scale": {"domain": [-20, 60], "nice": false, "zero": false}}}},
{"data": {"name": "Ce"}, "mark": {"type": "line", "strokeWidth": 1, "strokeDash": [6, 3]},
"encoding": {
"x": {"field": "d", "type": "quantitative", "scale": {"domain": [0, 200], "nice": false}, "axis": {"values": [0, 50, 100, 150, 200], "tickCount": 10, "title": "Distance (nm)"}},
"y": {"field": "v", "type": "quantitative", "scale": {"domain": [-20, 60], "nice": false, "zero": false}, "axis": {"values": [-20, 0, 20, 40, 60], "tickCount": 10, "title": "Lr-r", "labelOverlap": false}},
"stroke": {"field": "s", "type": "nominal", "scale": {"domain": ["NP-M1, transf", "NP-M1, inf"], "range": ["#e86060", "#444444"]}, "legend": null},
"detail": {"field": "b", "type": "nominal"}}},
{"data": {"name": "C"}, "mark": {"type": "line", "strokeWidth": 2.5},
"encoding": {
"x": {"field": "d", "type": "quantitative", "scale": {"domain": [0, 200], "nice": false}},
"y": {"field": "v", "type": "quantitative", "scale": {"domain": [-20, 60], "nice": false, "zero": false}},
"color": {"field": "s", "type": "nominal", "scale": {"domain": ["NP-M1, inf", "NP-M1, transf"], "range": ["#111111", "#e3261f"]}, "legend": {"orient": "none", "legendX": 5, "legendY": 4, "title": null}}}}
]
}
],
"spacing": 6,
"resolve": {"scale": {"color": "independent", "stroke": "independent", "x": "independent", "y": "independent"}, "legend": {"color": "independent", "stroke": "independent"}}
},
{
"hconcat": [
{
"width": 286, "height": 214,
"title": {"text": "B", "dx": -48},
"layer": [
{"data": {"values": [{}]}, "mark": {"type": "rule", "color": "#9a9a9a", "strokeWidth": 1}, "encoding": {"y": {"datum": 0, "type": "quantitative", "scale": {"domain": [-20, 60], "nice": false, "zero": false}}}},
{"data": {"name": "Be"}, "mark": {"type": "line", "strokeWidth": 1, "strokeDash": [6, 3]},
"encoding": {
"x": {"field": "d", "type": "quantitative", "scale": {"domain": [0, 200], "nice": false}, "axis": {"values": [0, 50, 100, 150, 200], "tickCount": 10, "title": "Distance (nm)"}},
"y": {"field": "v", "type": "quantitative", "scale": {"domain": [-20, 60], "nice": false, "zero": false}, "axis": {"values": [-20, 0, 20, 40, 60], "tickCount": 10, "title": "Lr-r", "labelOverlap": false}},
"stroke": {"field": "s", "type": "nominal", "scale": {"domain": ["NP-NA, transf", "NP-NA, inf"], "range": ["#e86060", "#444444"]}, "legend": null},
"detail": {"field": "b", "type": "nominal"}}},
{"data": {"name": "B"}, "mark": {"type": "line", "strokeWidth": 2.5},
"encoding": {
"x": {"field": "d", "type": "quantitative", "scale": {"domain": [0, 200], "nice": false}},
"y": {"field": "v", "type": "quantitative", "scale": {"domain": [-20, 60], "nice": false, "zero": false}},
"color": {"field": "s", "type": "nominal", "scale": {"domain": ["NP-NA, inf", "NP-NA, transf"], "range": ["#111111", "#e3261f"]}, "legend": {"orient": "none", "legendX": 6, "legendY": 4, "title": null}}}}
]
},
{
"width": 286, "height": 214,
"title": {"text": "D", "dx": -54},
"layer": [
{"data": {"values": [{}]}, "mark": {"type": "rule", "color": "#9a9a9a", "strokeWidth": 1}, "encoding": {"y": {"datum": 0, "type": "quantitative", "scale": {"domain": [-25, 100], "nice": false, "zero": false}}}},
{"data": {"name": "De"}, "mark": {"type": "line", "strokeWidth": 1, "strokeDash": [6, 3]},
"encoding": {
"x": {"field": "d", "type": "quantitative", "scale": {"domain": [0, 200], "nice": false}, "axis": {"values": [0, 50, 100, 150, 200], "tickCount": 10, "title": "Distance (nm)"}},
"y": {"field": "v", "type": "quantitative", "scale": {"domain": [-25, 100], "nice": false, "zero": false}, "axis": {"values": [-20, 0, 20, 40, 60, 80, 100], "tickCount": 12, "title": "Lr-r", "labelOverlap": false}},
"stroke": {"field": "s", "type": "nominal", "scale": {"domain": ["M1-mut1M2-NP, transf", "M1-M2-NP, transf", "M2-NP, transf", "M2-NP, inf"], "range": ["#55b87a", "#8c87cc", "#e86060", "#444444"]}, "legend": null},
"detail": {"field": "b", "type": "nominal"}}},
{"data": {"name": "D"}, "mark": {"type": "line", "strokeWidth": 2.5},
"encoding": {
"x": {"field": "d", "type": "quantitative", "scale": {"domain": [0, 200], "nice": false}},
"y": {"field": "v", "type": "quantitative", "scale": {"domain": [-25, 100], "nice": false, "zero": false}},
"color": {"field": "s", "type": "nominal", "scale": {"domain": ["M2-NP, inf", "M2-NP, transf", "M1-M2-NP, transf", "M1-mut1M2-NP, transf"], "range": ["#111111", "#e3261f", "#6a60a9", "#1a9b50"]}, "legend": {"orient": "none", "legendX": 140, "legendY": 52, "title": null}}}}
]
}
],
"spacing": 6,
"resolve": {"scale": {"color": "independent", "stroke": "independent", "x": "independent", "y": "independent"}, "legend": {"color": "independent", "stroke": "independent"}}
}
],
"config": {
"font": "Liberation Sans",
"view": {"stroke": "#404040", "strokeWidth": 1},
"axis": {"grid": false, "labelOverlap": false, "domainColor": "#404040", "tickColor": "#404040", "tickSize": 5, "labelFont": "Liberation Sans", "labelFontSize": 10, "labelColor": "#222222", "labelPadding": 3, "titleFont": "Liberation Sans", "titleFontSize": 12, "titleFontWeight": "normal", "titleColor": "#222222", "titlePadding": 5},
"axisX": {"titlePadding": 7},
"title": {"anchor": "start", "frame": "group", "fontSize": 21, "fontWeight": "bold", "font": "Liberation Sans", "color": "#000000", "baseline": "top", "offset": -26},
"legend": {"strokeColor": "#505050", "fillColor": "white", "padding": 6, "labelFont": "Liberation Sans", "labelFontSize": 10, "labelColor": "#222222", "labelLimit": 400, "symbolType": "M-1,0H3.8", "symbolSize": 100, "symbolStrokeWidth": 2.5, "labelOffset": 17, "rowPadding": 2}
}
}
